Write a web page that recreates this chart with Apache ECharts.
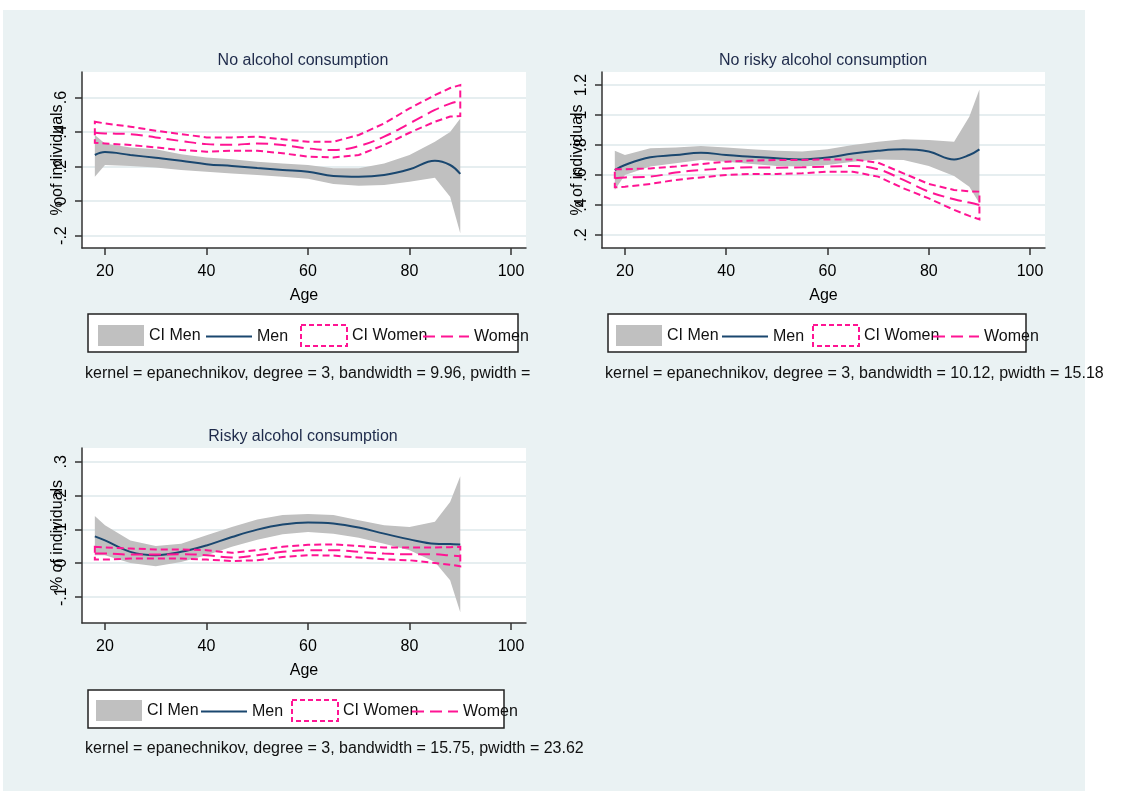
<!DOCTYPE html>
<html>
<head>
<meta charset="utf-8">
<title>Alcohol consumption by age</title>
<script src="https://cdn.jsdelivr.net/npm/echarts@6/dist/echarts.min.js"></script>
<style>
html, body { margin: 0; padding: 0; background: #fff; }
#chart { width: 1128px; height: 791px; }
</style>
</head>
<body>
<div id="chart"></div>
<script>
const ages = [18, 20, 25, 30, 35, 40, 45, 50, 55, 60, 65, 70, 75, 80, 85, 88, 90];

// panel 1 - no alcohol consumption
const noAlcMen      = [0.267, 0.284, 0.267, 0.251, 0.234, 0.214, 0.203, 0.191, 0.180, 0.170, 0.145, 0.141, 0.151, 0.184, 0.234, 0.209, 0.157];
const noAlcMenLo    = [0.141, 0.209, 0.203, 0.195, 0.180, 0.170, 0.160, 0.151, 0.141, 0.129, 0.099, 0.089, 0.093, 0.112, 0.135, 0.025, -0.187];
const noAlcMenHi    = [0.383, 0.334, 0.311, 0.300, 0.272, 0.253, 0.242, 0.228, 0.218, 0.209, 0.190, 0.190, 0.218, 0.267, 0.344, 0.400, 0.479];
const noAlcWomen    = [0.396, 0.392, 0.388, 0.369, 0.348, 0.330, 0.326, 0.334, 0.325, 0.305, 0.296, 0.319, 0.373, 0.450, 0.528, 0.565, 0.581];
const noAlcWomenLo  = [0.338, 0.334, 0.325, 0.311, 0.296, 0.286, 0.292, 0.292, 0.277, 0.257, 0.253, 0.267, 0.325, 0.396, 0.460, 0.490, 0.493];
const noAlcWomenHi  = [0.460, 0.450, 0.431, 0.408, 0.388, 0.369, 0.369, 0.373, 0.358, 0.344, 0.344, 0.383, 0.450, 0.537, 0.614, 0.655, 0.672];

// panel 2 - no risky alcohol consumption
const noRiskMen     = [0.633, 0.667, 0.718, 0.733, 0.749, 0.733, 0.722, 0.711, 0.704, 0.716, 0.744, 0.762, 0.771, 0.756, 0.704, 0.733, 0.771];
const noRiskMenLo   = [0.500, 0.600, 0.656, 0.678, 0.700, 0.689, 0.673, 0.660, 0.656, 0.667, 0.689, 0.704, 0.700, 0.660, 0.593, 0.522, 0.411];
const noRiskMenHi   = [0.762, 0.733, 0.778, 0.784, 0.793, 0.784, 0.771, 0.762, 0.756, 0.771, 0.800, 0.822, 0.838, 0.833, 0.822, 0.989, 1.171];
const noRiskWomen   = [0.578, 0.584, 0.589, 0.616, 0.633, 0.644, 0.651, 0.649, 0.651, 0.656, 0.660, 0.638, 0.567, 0.489, 0.438, 0.416, 0.400];
const noRiskWomenLo = [0.518, 0.522, 0.540, 0.567, 0.584, 0.600, 0.607, 0.607, 0.611, 0.622, 0.622, 0.589, 0.511, 0.444, 0.367, 0.327, 0.304];
const noRiskWomenHi = [0.638, 0.638, 0.644, 0.656, 0.673, 0.689, 0.696, 0.700, 0.700, 0.704, 0.704, 0.682, 0.611, 0.540, 0.500, 0.491, 0.489];

// panel 3 - risky alcohol consumption
const riskMen       = [0.079, 0.067, 0.033, 0.023, 0.033, 0.052, 0.077, 0.099, 0.114, 0.120, 0.117, 0.105, 0.087, 0.070, 0.057, 0.056, 0.055];
const riskMenLo     = [0.023, 0.023, 0.000, -0.010, 0.003, 0.023, 0.048, 0.069, 0.085, 0.092, 0.087, 0.075, 0.057, 0.038, 0.003, -0.051, -0.146];
const riskMenHi     = [0.139, 0.112, 0.067, 0.050, 0.057, 0.082, 0.107, 0.129, 0.142, 0.145, 0.142, 0.127, 0.112, 0.107, 0.122, 0.181, 0.257];
const riskWomen     = [0.028, 0.028, 0.025, 0.025, 0.026, 0.023, 0.016, 0.023, 0.033, 0.038, 0.038, 0.033, 0.028, 0.026, 0.026, 0.022, 0.020];
const riskWomenLo   = [0.010, 0.010, 0.013, 0.013, 0.013, 0.010, 0.006, 0.008, 0.018, 0.023, 0.022, 0.016, 0.011, 0.008, 0.000, -0.005, -0.010];
const riskWomenHi   = [0.048, 0.046, 0.043, 0.040, 0.040, 0.038, 0.030, 0.038, 0.048, 0.054, 0.055, 0.050, 0.046, 0.046, 0.046, 0.047, 0.048];

// tick labels
const xTicks = [20, 40, 60, 80, 100];
const yTicks1 = [-0.2, 0, 0.2, 0.4, 0.6];
const yTicks2 = [0.2, 0.4, 0.6, 0.8, 1, 1.2];
const yTicks3 = [-0.1, 0, 0.1, 0.2, 0.3];

const titles = ['No alcohol consumption', 'No risky alcohol consumption', 'Risky alcohol consumption'];
const notes = [
    'kernel = epanechnikov, degree = 3, bandwidth = 9.96, pwidth =',
    'kernel = epanechnikov, degree = 3, bandwidth = 10.12, pwidth = 15.18',
    'kernel = epanechnikov, degree = 3, bandwidth = 15.75, pwidth = 23.62'
];

const FONT = 'Liberation Sans, Arial, sans-serif';
const NAVY = '#1A476F';
const PINK = '#FF1493';
const GREY = '#C0C0C0';
const HIDDEN = 'rgba(0,0,0,0)';

// panel layout (pixels)
const panels = [
    { grid: [82, 72, 444, 176], yMin: -0.272, yMax: 0.748, yTicks: yTicks1, title: [303, 53], note: [85, 366],
      box: [88, 314, 430, 38], legendTop: 325, legendText: [149, 256, 351, 473],
      men: noAlcMen, menLo: noAlcMenLo, menHi: noAlcMenHi, women: noAlcWomen, womenLo: noAlcWomenLo, womenHi: noAlcWomenHi },
    { grid: [602, 72, 443, 176], yMin: 0.113, yMax: 1.287, yTicks: yTicks2, title: [823, 53], note: [605, 366],
      box: [608, 314, 418, 38], legendTop: 325, legendText: [667, 772, 863, 983],
      men: noRiskMen, menLo: noRiskMenLo, menHi: noRiskMenHi, women: noRiskWomen, womenLo: noRiskWomenLo, womenHi: noRiskWomenHi },
    { grid: [82, 448, 444, 175], yMin: -0.178, yMax: 0.341, yTicks: yTicks3, title: [303, 429], note: [85, 741],
      box: [88, 690, 416, 38], legendTop: 700, legendText: [147, 251, 342, 462],
      men: riskMen, menLo: riskMenLo, menHi: riskMenHi, women: riskWomen, womenLo: riskWomenLo, womenHi: riskWomenHi }
];

// stata style tick labels: .2, -.2, 1.2
function stataNum(v) {
    let s = String(Math.round(v * 10) / 10);
    return s.replace(/^(-?)0\./, '$1.');
}

// one polygon for the whole band, drawn when the first item is rendered
function bandRenderer(lo, hi, fill, outlined) {
    return function (params, api) {
        if (params.dataIndex !== 0) return null;
        const pts = [];
        for (let i = 0; i < ages.length; i++) pts.push(api.coord([ages[i], hi[i]]));
        for (let i = ages.length - 1; i >= 0; i--) pts.push(api.coord([ages[i], lo[i]]));
        return {
            type: 'polygon',
            shape: { points: pts },
            style: outlined
                ? { fill: 'none', stroke: PINK, lineWidth: 2, lineDash: [7, 4] }
                : { fill: fill, stroke: 'none' }
        };
    };
}

const grid = [], xAxis = [], yAxis = [], series = [], title = [], legend = [], graphic = [];

graphic.push({ type: 'rect', shape: { x: 3, y: 10, width: 1082, height: 781 }, style: { fill: '#EAF2F3' }, z: -10 });

panels.forEach((p, k) => {
    grid.push({
        left: p.grid[0], top: p.grid[1], width: p.grid[2], height: p.grid[3],
        show: true, backgroundColor: '#fff', borderWidth: 0
    });
    xAxis.push({
        type: 'value', gridIndex: k, min: 15.47, max: 102.95,
        name: 'Age', nameLocation: 'middle', nameGap: 40, nameMoveOverlap: false,
        nameTextStyle: { fontFamily: FONT, fontSize: 16, color: '#000' },
        axisLine: { show: true, onZero: false, lineStyle: { color: '#333', width: 1.5 } },
        axisTick: { show: true, length: 7, customValues: xTicks, lineStyle: { color: '#333', width: 1.5 } },
        axisLabel: { customValues: xTicks, margin: 16, fontFamily: FONT, fontSize: 16, color: '#000' },
        splitLine: { show: false }
    });
    yAxis.push({
        type: 'value', gridIndex: k, min: p.yMin, max: p.yMax,
        name: '% of individuals', nameLocation: 'middle', nameGap: 16, nameMoveOverlap: false,
        nameTextStyle: { fontFamily: FONT, fontSize: 16, color: '#000' },
        axisLine: { show: true, onZero: false, lineStyle: { color: '#333', width: 1.5 } },
        axisTick: { show: true, length: 7, customValues: p.yTicks, lineStyle: { color: '#333', width: 1.5 } },
        axisLabel: { customValues: p.yTicks, rotate: 90, margin: 12, fontFamily: FONT, fontSize: 16, color: '#000',
                     formatter: stataNum },
        splitLine: { show: true, lineStyle: { color: '#E6EEF0', width: 2 } }
    });

    series.push({
        name: 'CI Men', type: 'custom', xAxisIndex: k, yAxisIndex: k,
        itemStyle: { color: GREY },
        data: ages.map((a, i) => [a, p.menLo[i], p.menHi[i]]),
        encode: { x: 0, y: [1, 2] },
        renderItem: bandRenderer(p.menLo, p.menHi, GREY, false),
        silent: true, z: 2
    });
    series.push({
        name: 'Men', type: 'line', xAxisIndex: k, yAxisIndex: k,
        data: ages.map((a, i) => [a, p.men[i]]),
        smooth: 0.4, showSymbol: false,
        lineStyle: { color: NAVY, width: 2 }, itemStyle: { color: NAVY },
        z: 3
    });
    series.push({
        name: 'CI Women', type: 'custom', xAxisIndex: k, yAxisIndex: k,
        itemStyle: { color: PINK },
        data: ages.map((a, i) => [a, p.womenLo[i], p.womenHi[i]]),
        encode: { x: 0, y: [1, 2] },
        renderItem: bandRenderer(p.womenLo, p.womenHi, null, true),
        silent: true, z: 4
    });
    series.push({
        name: 'Women', type: 'line', xAxisIndex: k, yAxisIndex: k,
        data: ages.map((a, i) => [a, p.women[i]]),
        smooth: 0.4, showSymbol: false,
        lineStyle: { color: PINK, width: 2, type: [12, 6] }, itemStyle: { color: PINK },
        z: 5
    });

    title.push({
        text: titles[k], left: p.title[0], top: p.title[1], textAlign: 'center', padding: 0,
        textStyle: { fontFamily: FONT, fontSize: 16, fontWeight: 'normal', color: '#1E2A4A' }
    });
    title.push({
        text: notes[k], left: p.note[0], top: p.note[1], padding: 0,
        textStyle: { fontFamily: FONT, fontSize: 16, fontWeight: 'normal', color: '#111' }
    });

    // legend frame
    graphic.push({
        type: 'rect', shape: { x: p.box[0], y: p.box[1], width: p.box[2], height: p.box[3] },
        style: { fill: '#fff', stroke: '#222', lineWidth: 1.5 }, z: -5
    });

    const legendItems = [
        { name: 'CI Men', icon: 'rect', itemStyle: { color: GREY, borderWidth: 0 } },
        { name: 'Men', itemStyle: { color: HIDDEN, borderColor: HIDDEN, opacity: 0 } },
        { name: 'CI Women', icon: 'rect', itemStyle: { color: '#fff', borderColor: PINK, borderWidth: 2, borderType: [5, 3] } },
        { name: 'Women', itemStyle: { color: HIDDEN, borderColor: HIDDEN, opacity: 0 } }
    ];
    // line keys sit a touch higher than the box keys, nudge them down
    const nudge = [0, 2, -1, 2];
    legendItems.forEach((it, j) => {
        legend.push({
            left: p.legendText[j] - 51, top: p.legendTop + nudge[j], padding: 0,
            itemWidth: 46, itemHeight: 21, selectedMode: false,
            textStyle: { fontFamily: FONT, fontSize: 16, color: '#111' },
            data: [it]
        });
    });
});

const chart = echarts.init(document.getElementById('chart'));
chart.setOption({
    backgroundColor: '#fff',
    animation: false,
    title: title,
    legend: legend,
    grid: grid,
    xAxis: xAxis,
    yAxis: yAxis,
    series: series,
    graphic: graphic
});
window.addEventListener('resize', () => { chart.resize(); });
</script>
</body>
</html>
